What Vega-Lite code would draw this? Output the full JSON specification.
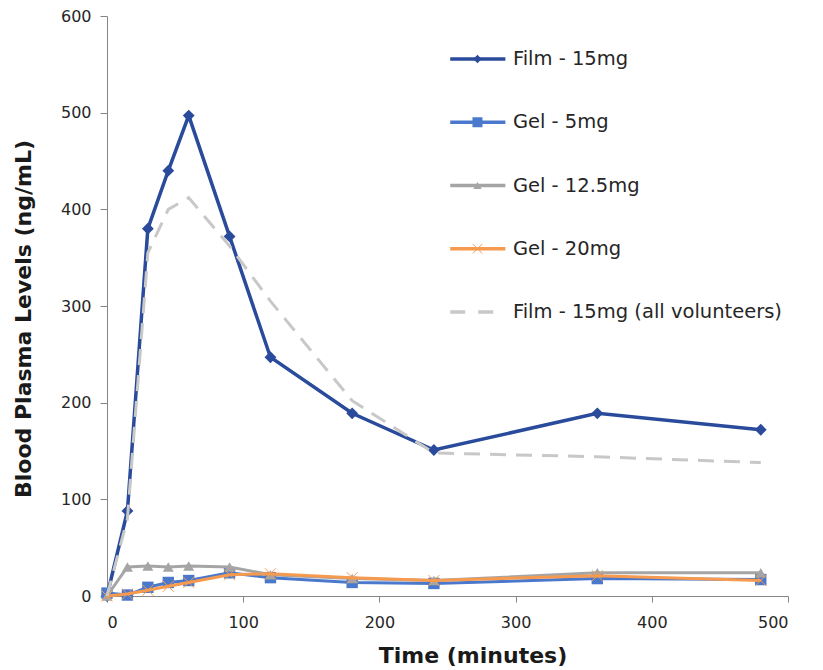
{
  "$schema": "https://vega.github.io/schema/vega-lite/v6.json",
  "autosize": "none",
  "width": 681,
  "height": 580,
  "padding": {"left": 107, "top": 16, "right": 35, "bottom": 74},
  "background": "white",
  "config": {
    "view": {"stroke": null},
    "font": "DejaVu Sans",
    "axis": {
      "grid": false,
      "domainColor": "#868686",
      "tickColor": "#868686",
      "labelFont": "DejaVu Sans",
      "labelFontSize": 16,
      "labelColor": "#262626",
      "titleFont": "DejaVu Sans",
      "titleFontSize": 22,
      "titleFontWeight": "bold",
      "titleColor": "#1a1a1a"
    }
  },
  "datasets": {
    "main": [
      {"series": "Film - 15mg", "time": 0, "level": 0},
      {"series": "Film - 15mg", "time": 15, "level": 88},
      {"series": "Film - 15mg", "time": 30, "level": 380},
      {"series": "Film - 15mg", "time": 45, "level": 440},
      {"series": "Film - 15mg", "time": 60, "level": 497},
      {"series": "Film - 15mg", "time": 90, "level": 372},
      {"series": "Film - 15mg", "time": 120, "level": 247},
      {"series": "Film - 15mg", "time": 180, "level": 189},
      {"series": "Film - 15mg", "time": 240, "level": 151},
      {"series": "Film - 15mg", "time": 360, "level": 189},
      {"series": "Film - 15mg", "time": 480, "level": 172},
      {"series": "Gel - 5mg", "time": 0, "level": 3},
      {"series": "Gel - 5mg", "time": 15, "level": 1},
      {"series": "Gel - 5mg", "time": 30, "level": 9},
      {"series": "Gel - 5mg", "time": 45, "level": 14},
      {"series": "Gel - 5mg", "time": 60, "level": 16},
      {"series": "Gel - 5mg", "time": 90, "level": 24},
      {"series": "Gel - 5mg", "time": 120, "level": 19},
      {"series": "Gel - 5mg", "time": 180, "level": 14},
      {"series": "Gel - 5mg", "time": 240, "level": 13},
      {"series": "Gel - 5mg", "time": 360, "level": 18},
      {"series": "Gel - 5mg", "time": 480, "level": 17},
      {"series": "Gel - 12.5mg", "time": 0, "level": 0},
      {"series": "Gel - 12.5mg", "time": 15, "level": 30},
      {"series": "Gel - 12.5mg", "time": 30, "level": 31},
      {"series": "Gel - 12.5mg", "time": 45, "level": 30},
      {"series": "Gel - 12.5mg", "time": 60, "level": 31},
      {"series": "Gel - 12.5mg", "time": 90, "level": 30},
      {"series": "Gel - 12.5mg", "time": 120, "level": 22},
      {"series": "Gel - 12.5mg", "time": 180, "level": 18},
      {"series": "Gel - 12.5mg", "time": 240, "level": 16},
      {"series": "Gel - 12.5mg", "time": 360, "level": 24},
      {"series": "Gel - 12.5mg", "time": 480, "level": 24},
      {"series": "Gel - 20mg", "time": 0, "level": 0},
      {"series": "Gel - 20mg", "time": 15, "level": 2},
      {"series": "Gel - 20mg", "time": 30, "level": 6},
      {"series": "Gel - 20mg", "time": 45, "level": 10},
      {"series": "Gel - 20mg", "time": 60, "level": 14},
      {"series": "Gel - 20mg", "time": 90, "level": 22},
      {"series": "Gel - 20mg", "time": 120, "level": 23},
      {"series": "Gel - 20mg", "time": 180, "level": 19},
      {"series": "Gel - 20mg", "time": 240, "level": 16},
      {"series": "Gel - 20mg", "time": 360, "level": 21},
      {"series": "Gel - 20mg", "time": 480, "level": 16},
      {"series": "Film - 15mg (all volunteers)", "time": 0, "level": 0},
      {"series": "Film - 15mg (all volunteers)", "time": 15, "level": 80},
      {"series": "Film - 15mg (all volunteers)", "time": 30, "level": 355},
      {"series": "Film - 15mg (all volunteers)", "time": 45, "level": 400},
      {"series": "Film - 15mg (all volunteers)", "time": 60, "level": 412},
      {"series": "Film - 15mg (all volunteers)", "time": 90, "level": 362},
      {"series": "Film - 15mg (all volunteers)", "time": 120, "level": 305},
      {"series": "Film - 15mg (all volunteers)", "time": 180, "level": 202},
      {"series": "Film - 15mg (all volunteers)", "time": 240, "level": 148},
      {"series": "Film - 15mg (all volunteers)", "time": 360, "level": 144},
      {"series": "Film - 15mg (all volunteers)", "time": 480, "level": 138}
    ],
    "legend": [
      {"series": "Film - 15mg"},
      {"series": "Gel - 5mg"},
      {"series": "Gel - 12.5mg"},
      {"series": "Gel - 20mg"},
      {"series": "Film - 15mg (all volunteers)"}
    ]
  },
  "layer": [
    {
      "data": {"name": "main"},
      "encoding": {
        "x": {
          "field": "time", "type": "quantitative",
          "scale": {"domain": [0, 500], "nice": false},
          "axis": {"values": [0, 100, 200, 300, 400, 500], "title": "Time (minutes)", "titlePadding": 15, "titleX": 365.5, "labelPadding": 12, "tickSize": 6}
        },
        "y": {
          "field": "level", "type": "quantitative",
          "scale": {"domain": [0, 600], "nice": false},
          "axis": {"values": [0, 100, 200, 300, 400, 500, 600], "title": "Blood Plasma Levels (ng/mL)", "titlePadding": 25, "titleY": 302.5, "labelPadding": 9, "tickSize": 7}
        },
        "color": {"field": "series", "type": "nominal", "legend": null,
          "scale": {"domain": ["Film - 15mg", "Gel - 5mg", "Gel - 12.5mg", "Gel - 20mg", "Film - 15mg (all volunteers)"],
                    "range": ["#2A4B9B", "#4A78CC", "#A5A5A5", "#F59A4F", "#C8C8C8"]}}
      },
      "layer": [
        {
          "transform": [{"filter": "datum.series === 'Film - 15mg'"}],
          "mark": {"type": "line", "strokeWidth": 3.5, "point": {"shape": "diamond", "filled": true, "size": 140, "opacity": 1}}
        },
        {
          "transform": [{"filter": "datum.series === 'Gel - 5mg'"}],
          "mark": {"type": "line", "strokeWidth": 3, "point": {"shape": "square", "filled": true, "size": 130, "opacity": 1}}
        },
        {
          "transform": [{"filter": "datum.series === 'Gel - 12.5mg'"}],
          "mark": {"type": "line", "strokeWidth": 3, "point": {"shape": "triangle-up", "filled": true, "size": 120, "opacity": 1}}
        },
        {
          "transform": [{"filter": "datum.series === 'Gel - 20mg'"}],
          "mark": {"type": "line", "strokeWidth": 3, "point": {"shape": "M-1,-1L1,1M-1,1L1,-1", "filled": false, "strokeWidth": 1, "size": 120, "opacity": 1}}
        },
        {
          "transform": [{"filter": "datum.series === 'Film - 15mg (all volunteers)'"}],
          "mark": {"type": "line", "strokeWidth": 3, "strokeDash": [16, 10]}
        }
      ]
    },
    {
      "data": {"name": "legend"},
      "encoding": {
        "y": {"field": "series", "type": "nominal", "axis": null,
          "scale": {"type": "point", "domain": ["Film - 15mg", "Gel - 5mg", "Gel - 12.5mg", "Gel - 20mg", "Film - 15mg (all volunteers)"], "range": [43, 296], "padding": 0}},
        "color": {"field": "series", "type": "nominal", "legend": null}
      },
      "layer": [
        {
          "transform": [{"filter": "datum.series !== 'Film - 15mg (all volunteers)'"}],
          "mark": {"type": "rule", "strokeWidth": 3.5},
          "encoding": {"x": {"datum": 252, "type": "quantitative"}, "x2": {"datum": 292.5}}
        },
        {
          "transform": [{"filter": "datum.series === 'Film - 15mg (all volunteers)'"}],
          "mark": {"type": "rule", "strokeWidth": 3.5, "strokeDash": [15, 13]},
          "encoding": {"x": {"datum": 252, "type": "quantitative"}, "x2": {"datum": 292.5}}
        },
        {
          "transform": [{"filter": "datum.series === 'Film - 15mg'"}],
          "mark": {"type": "point", "shape": "diamond", "filled": true, "size": 70, "opacity": 1},
          "encoding": {"x": {"datum": 272, "type": "quantitative"}}
        },
        {
          "transform": [{"filter": "datum.series === 'Gel - 5mg'"}],
          "mark": {"type": "point", "shape": "square", "filled": true, "size": 100, "opacity": 1},
          "encoding": {"x": {"datum": 272, "type": "quantitative"}}
        },
        {
          "transform": [{"filter": "datum.series === 'Gel - 12.5mg'"}],
          "mark": {"type": "point", "shape": "triangle-up", "filled": true, "size": 70, "opacity": 1},
          "encoding": {"x": {"datum": 272, "type": "quantitative"}}
        },
        {
          "transform": [{"filter": "datum.series === 'Gel - 20mg'"}],
          "mark": {"type": "point", "shape": "M-1,-1L1,1M-1,1L1,-1", "filled": false, "strokeWidth": 1, "size": 90, "opacity": 1},
          "encoding": {"x": {"datum": 272, "type": "quantitative"}}
        },
        {
          "mark": {"type": "text", "align": "left", "baseline": "middle", "font": "DejaVu Sans", "fontSize": 19.5},
          "encoding": {"x": {"datum": 298, "type": "quantitative"}, "text": {"field": "series"}, "color": {"value": "#262626"}}
        }
      ]
    }
  ],
  "resolve": {"scale": {"y": "independent"}}
}
